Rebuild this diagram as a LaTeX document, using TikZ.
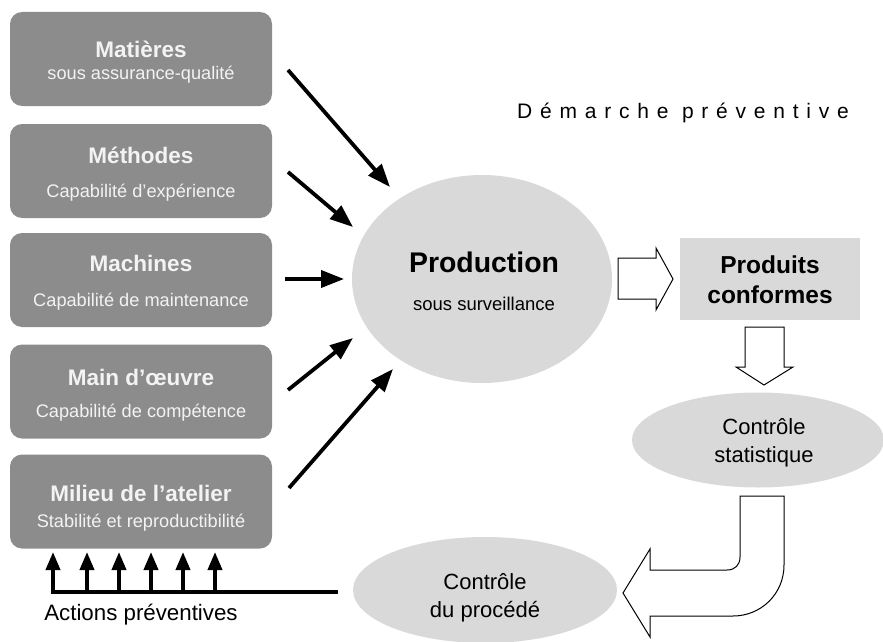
\documentclass[tikz,border=0pt]{standalone}
\usepackage{fontspec}
\setmainfont{Liberation Sans}
\newfontfamily\spacedfont[LetterSpace=37]{Liberation Sans}
\usetikzlibrary{arrows.meta,shapes.geometric,calc}

\definecolor{boxgray}{RGB}{140,140,140}
\definecolor{boxtext}{RGB}{243,243,243}
\definecolor{softfill}{RGB}{217,217,217}

\begin{document}
\begin{tikzpicture}[x=1pt,y=-1pt,
  factor/.style={fill=boxgray,rounded corners=12pt,minimum width=262pt,
    minimum height=94pt,inner sep=0pt},
  ftitle/.style={text=boxtext,font=\fontsize{22.5}{26}\selectfont\bfseries,inner sep=0pt},
  fsub/.style={text=boxtext,font=\fontsize{18.2}{22}\selectfont,inner sep=0pt},
  oval/.style={ellipse,fill=softfill,inner sep=0pt},
  plain/.style={font=\fontsize{22}{26}\selectfont,inner sep=0pt},
  feed/.style={line width=3.8pt,-{Triangle[length=23pt,width=17pt]}},
  back/.style={line width=3.8pt,-{Triangle[length=18pt,width=14pt]}},
  block/.style={draw=black,line width=1pt,fill=white,line join=miter}
]
\useasboundingbox (0,0) rectangle (883,642);

% the five input factors
\node[factor] (mat) at (141,59)    {};
\node[factor] (met) at (141,171)   {};
\node[factor] (mac) at (141,280)   {};
\node[factor] (mdo) at (141,391.5) {};
\node[factor] (mil) at (141,501.5) {};

\node[ftitle] (matT) at (141,49)  {Matières};
\node[fsub]   (matS) at (141,75)  {sous assurance-qualité};
\node[ftitle] (metT) at (141,155) {Méthodes};
\node[fsub]   (metS) at (141,193) {Capabilité d’expérience};
\node[ftitle] (macT) at (141,263) {Machines};
\node[fsub]   (macS) at (141,302) {Capabilité de maintenance};
\node[ftitle] (mdoT) at (141,377) {Main d’œuvre};
\node[fsub]   (mdoS) at (141,413) {Capabilité de compétence};
\node[ftitle] (milT) at (141,493) {Milieu de l’atelier};
\node[fsub]   (milS) at (141,523) {Stabilité et reproductibilité};

% production
\node[oval,minimum width=260pt,minimum height=208pt] (prod) at (482,279) {};
\node[font=\fontsize{28.4}{32}\selectfont\bfseries,inner sep=0pt] (prodT) at (484,262) {Production};
\node[font=\fontsize{18.5}{22}\selectfont,inner sep=0pt] (prodS) at (484,304) {sous surveillance};

% heading
\node[anchor=west,inner sep=0pt,font=\fontsize{21}{24}\selectfont\spacedfont] (dem) at (517,113) {Démarche préventive};

% products
\node[fill=softfill,minimum width=180pt,minimum height=82pt,inner sep=0pt] (prd) at (770,279) {};
\node[font=\fontsize{24.5}{28}\selectfont\bfseries,inner sep=0pt] (prdA) at (770,265) {Produits};
\node[font=\fontsize{24.5}{28}\selectfont\bfseries,inner sep=0pt] (prdB) at (770,295) {conformes};

% statistical control
\node[oval,minimum width=252pt,minimum height=95pt] (stat) at (758,440) {};
\node[plain] (statA) at (764,427) {Contrôle};
\node[plain] (statB) at (764,457) {statistique};

% process control
\node[oval,minimum width=264pt,minimum height=106pt] (proc) at (485,590) {};
\node[plain] (procA) at (485,582) {Contrôle};
\node[plain] (procB) at (485,612) {du procédé};

% arrows from the factors into production
\coordinate (a1s) at (288,70);  \coordinate (a1e) at (390,187);
\coordinate (a2s) at (288,172); \coordinate (a2e) at (353,227);
\coordinate (a3s) at (285,279); \coordinate (a3e) at (344,279);
\coordinate (a4s) at (288,390); \coordinate (a4e) at (353,338);
\coordinate (a5s) at (289,488); \coordinate (a5e) at (393,369);
\draw[feed] (a1s) -- (a1e);
\draw[feed] (a2s) -- (a2e);
\draw[feed] (a3s) -- (a3e);
\draw[feed] (a4s) -- (a4e);
\draw[feed] (a5s) -- (a5e);

% block arrow: production -> products
\draw[block] (618,258) -- (656,258) -- (656,248) -- (673,279) -- (656,310)
  -- (656,299) -- (618,299) -- cycle;

% block arrow: products -> statistical control
\draw[block] (745,327) -- (784,327) -- (784,367) -- (793,367) -- (764,385)
  -- (736,367) -- (745,367) -- cycle;

% bent block arrow: statistical control -> process control
\draw[block] (740,496) -- (740,557) .. controls (740,565) and (735,570) .. (727,570)
  -- (650,570) -- (650,549) -- (623,593) -- (650,637) -- (650,616) -- (733,616)
  .. controls (761,616) and (784,594) .. (784,565) -- (784,496) -- cycle;

% feedback of preventive actions
\coordinate (fb0) at (338,592);
\coordinate (fb1) at (53,592);
\draw[line width=3.8pt] (fb0) -- (fb1);
\foreach \i/\x in {1/53,2/87,3/119,4/151,5/183,6/215}{
  \coordinate (up\i) at (\x,594);
  \coordinate (tip\i) at (\x,552);
  \draw[back] (up\i) -- (tip\i);
}
\node[plain,font=\fontsize{22.3}{26}\selectfont] (act) at (141,615) {Actions préventives};
\end{tikzpicture}
\end{document}
